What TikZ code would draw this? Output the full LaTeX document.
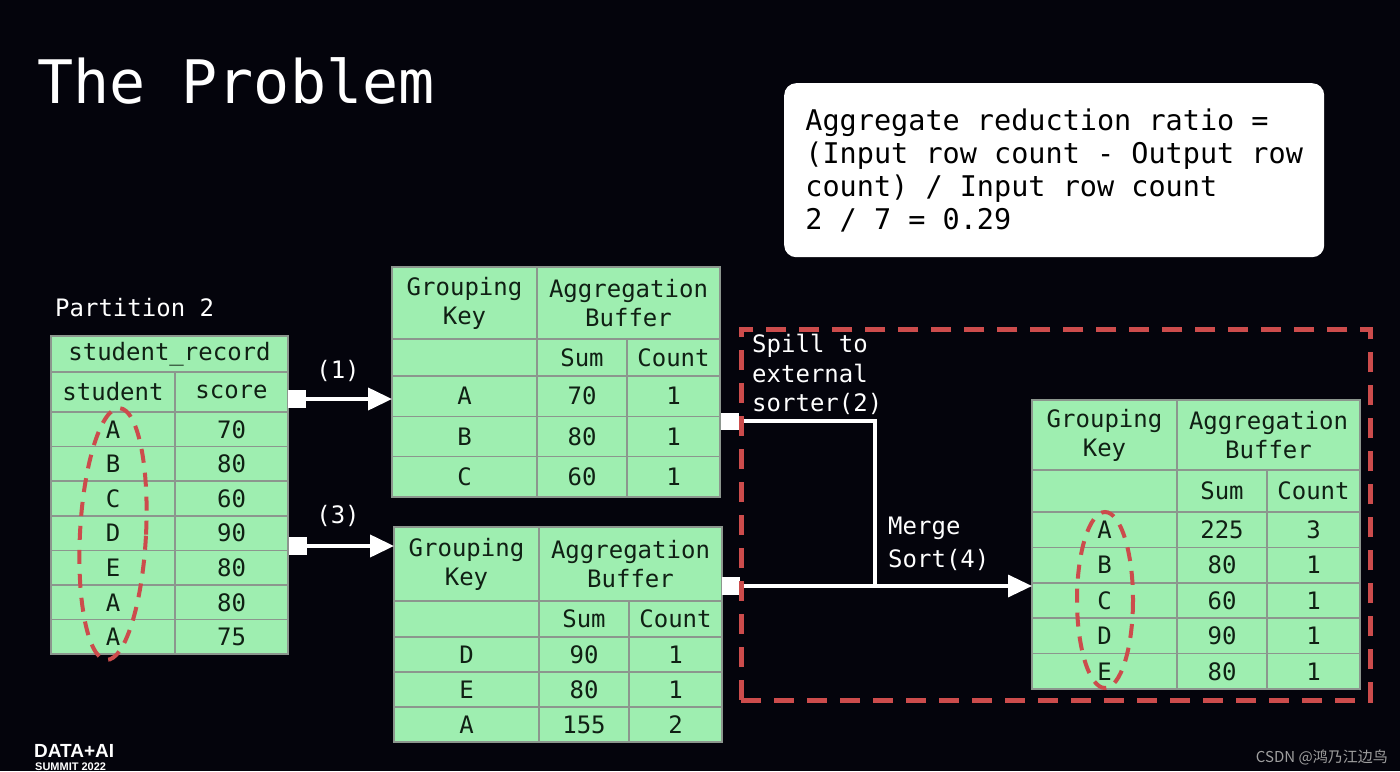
\documentclass[tikz,border=0pt]{standalone}
\usepackage{fontspec}
\setmonofont{DejaVu Sans Mono}
\newfontfamily\cjkfont{Noto Sans CJK SC}
\newfontfamily\logofont{Liberation Sans}
\usetikzlibrary{positioning, arrows.meta}
\definecolor{slidebg}{RGB}{4, 4, 12}
\definecolor{mint}{RGB}{158, 238, 176}
\definecolor{gridgray}{RGB}{140, 150, 142}
\definecolor{ink}{RGB}{16, 32, 20}
\definecolor{spillred}{RGB}{204, 76, 76}

\begin{document}
\begin{tikzpicture}[
    x=1pt, y=-1pt,
    cell/.style={
        rectangle,
        draw=gridgray,
        fill=mint,
        line width=1.6pt,
        inner sep=0pt,
        outer sep=0pt,
        align=center,
        text=ink,
        anchor=north west,
        font=\ttfamily\fontsize{24}{29}\selectfont
    },
    keycol/.style={minimum width=145pt},
    bufcol/.style={minimum width=183pt},
    sumcol/.style={minimum width=90pt},
    cntcol/.style={minimum width=93pt},
    plug/.style={
        rectangle,
        fill=white,
        minimum size=18pt,
        inner sep=0pt
    },
    flow/.style={
        white,
        line width=4pt,
        -{Triangle[length=24pt, width=22pt]}
    },
    pipe/.style={
        white,
        line width=3.5pt
    },
    label/.style={
        text=white,
        align=left,
        inner sep=0pt,
        font=\ttfamily\fontsize{24}{30}\selectfont
    },
    ratiobox/.style={
        rectangle,
        fill=white,
        rounded corners=12pt,
        anchor=north west,
        minimum width=540pt,
        minimum height=174pt,
        inner xsep=18pt,
        align=left,
        text=black,
        font=\ttfamily\fontsize{28.5}{33}\selectfont
    },
    zone/.style={
        rectangle,
        draw=spillred,
        line width=4.5pt,
        dash pattern=on 20pt off 13pt,
        anchor=north west,
        inner sep=0pt
    },
    ring/.style={
        draw=spillred,
        line width=4pt,
        dash pattern=on 14pt off 10pt
    }
]
\useasboundingbox (0,0) rectangle (1400,771);
\clip (0,0) rectangle (1400,771);
\fill[slidebg] (0,0) rectangle (1400,771);

% Nodes
\node (title) [anchor=base west, text=white, inner sep=0pt, font=\ttfamily\fontsize{60}{60}\selectfont] at (37,103) {The Problem};
\node (ratio) [ratiobox] at (784,83) {Aggregate reduction ratio =\\(Input row count - Output row\\count) / Input row count\\2 / 7 = 0.29};
\node (part) [label, anchor=base west] at (55,316) {Partition 2};

% student_record
\node (rec-title) [cell, minimum width=237pt, minimum height=36pt] at (51,336) {student\_record};
\node (rec-student) [cell, minimum width=124pt, minimum height=40pt] at (51,372) {student};
\node (rec-score) [cell, minimum width=113pt, minimum height=40pt, right=0pt of rec-student] {score};
\foreach \who/\pts [count=\i from 0] in {A/70, B/80, C/60, D/90, E/80, A/80, A/75} {
    \node (rec-n\i) [cell, minimum width=124pt, minimum height=34.6pt] at ([yshift={-34.6pt*\i}]rec-student.south west) {\who};
    \node (rec-v\i) [cell, minimum width=113pt, minimum height=34.6pt, right=0pt of rec-n\i] {\pts};
}

% first buffer
\node (buf1-key) [cell, keycol, minimum height=72pt] at (392,267) {Grouping\\Key};
\node (buf1-buf) [cell, bufcol, minimum height=72pt, right=0pt of buf1-key] {Aggregation\\Buffer};
\node (buf1-gap) [cell, keycol, minimum height=37pt] at (buf1-key.south west) {};
\node (buf1-sum) [cell, sumcol, minimum height=37pt, right=0pt of buf1-gap] {Sum};
\node (buf1-cnt) [cell, cntcol, minimum height=37pt, right=0pt of buf1-sum] {Count};
\foreach \grp/\sm/\ct [count=\i from 0] in {A/70/1, B/80/1, C/60/1} {
    \node (buf1-k\i) [cell, keycol, minimum height=40.3pt] at ([yshift={-40.3pt*\i}]buf1-gap.south west) {\grp};
    \node (buf1-s\i) [cell, sumcol, minimum height=40.3pt, right=0pt of buf1-k\i] {\sm};
    \node (buf1-c\i) [cell, cntcol, minimum height=40.3pt, right=0pt of buf1-s\i] {\ct};
}

% second buffer
\node (buf2-key) [cell, keycol, minimum height=74pt] at (394,527) {Grouping\\Key};
\node (buf2-buf) [cell, bufcol, minimum height=74pt, right=0pt of buf2-key] {Aggregation\\Buffer};
\node (buf2-gap) [cell, keycol, minimum height=36pt] at (buf2-key.south west) {};
\node (buf2-sum) [cell, sumcol, minimum height=36pt, right=0pt of buf2-gap] {Sum};
\node (buf2-cnt) [cell, cntcol, minimum height=36pt, right=0pt of buf2-sum] {Count};
\foreach \grp/\sm/\ct [count=\i from 0] in {D/90/1, E/80/1, A/155/2} {
    \node (buf2-k\i) [cell, keycol, minimum height=35pt] at ([yshift={-35pt*\i}]buf2-gap.south west) {\grp};
    \node (buf2-s\i) [cell, sumcol, minimum height=35pt, right=0pt of buf2-k\i] {\sm};
    \node (buf2-c\i) [cell, cntcol, minimum height=35pt, right=0pt of buf2-s\i] {\ct};
}

% merged result
\node (res-key) [cell, keycol, minimum height=70pt] at (1032,400) {Grouping\\Key};
\node (res-buf) [cell, bufcol, minimum height=70pt, right=0pt of res-key] {Aggregation\\Buffer};
\node (res-gap) [cell, keycol, minimum height=42pt] at (res-key.south west) {};
\node (res-sum) [cell, sumcol, minimum height=42pt, right=0pt of res-gap] {Sum};
\node (res-cnt) [cell, cntcol, minimum height=42pt, right=0pt of res-sum] {Count};
\foreach \grp/\sm/\ct [count=\i from 0] in {A/225/3, B/80/1, C/60/1, D/90/1, E/80/1} {
    \node (res-k\i) [cell, keycol, minimum height=35.4pt] at ([yshift={-35.4pt*\i}]res-gap.south west) {\grp};
    \node (res-s\i) [cell, sumcol, minimum height=35.4pt, right=0pt of res-k\i] {\sm};
    \node (res-c\i) [cell, cntcol, minimum height=35.4pt, right=0pt of res-s\i] {\ct};
}

\node (src1) [plug] at (297,399) {};
\node (src3) [plug] at (298,546) {};
\node (sp1) [plug, minimum height=17pt] at (730,421) {};
\node (sp2) [plug] at (731,586) {};
\coordinate (join) at (875,586);

\node (step1) [label] at (338,371) {(1)};
\node (step3) [label] at (338,516) {(3)};
\node (spill) [label, anchor=north west, font=\ttfamily\fontsize{24}{29.5}\selectfont] at (752,334) {Spill to\\external\\sorter(2)};
\node (merge) [label, anchor=north west, font=\ttfamily\fontsize{24}{33}\selectfont] at (888,517) {Merge\\Sort(4)};

\node (logo) [anchor=base west, text=white, inner sep=0pt, font=\logofont\bfseries\fontsize{19}{19}\selectfont] at (34,757) {DATA+AI};
\node (summit) [anchor=base west, text=white, inner sep=0pt, font=\logofont\bfseries\fontsize{11}{11}\selectfont] at (35,770) {SUMMIT 2022};
\node (mark) [anchor=base east, text=gray!75, inner sep=0pt, font=\cjkfont\fontsize{15}{15}\selectfont] at (1388,762) {CSDN @鸿乃江边鸟};

% Connections
\draw [flow] (src1.center) -- (src1 -| buf1-key.west);
\draw [flow] (src3.center) -- (src3 -| buf2-key.west);
\draw [pipe] (sp1.center) -| (join);
\draw [flow, line width=3.5pt] (sp2.center) -- (sp2 -| res-key.west);

\draw [ring, rotate around={-3:(113,534)}] (113,534) ellipse [x radius=33, y radius=126];
\draw [ring] (1105,600) ellipse [x radius=28, y radius=88];
\node (spillzone) [zone, minimum width=629pt, minimum height=371pt] at (739,327) {};

\end{tikzpicture}
\end{document}
